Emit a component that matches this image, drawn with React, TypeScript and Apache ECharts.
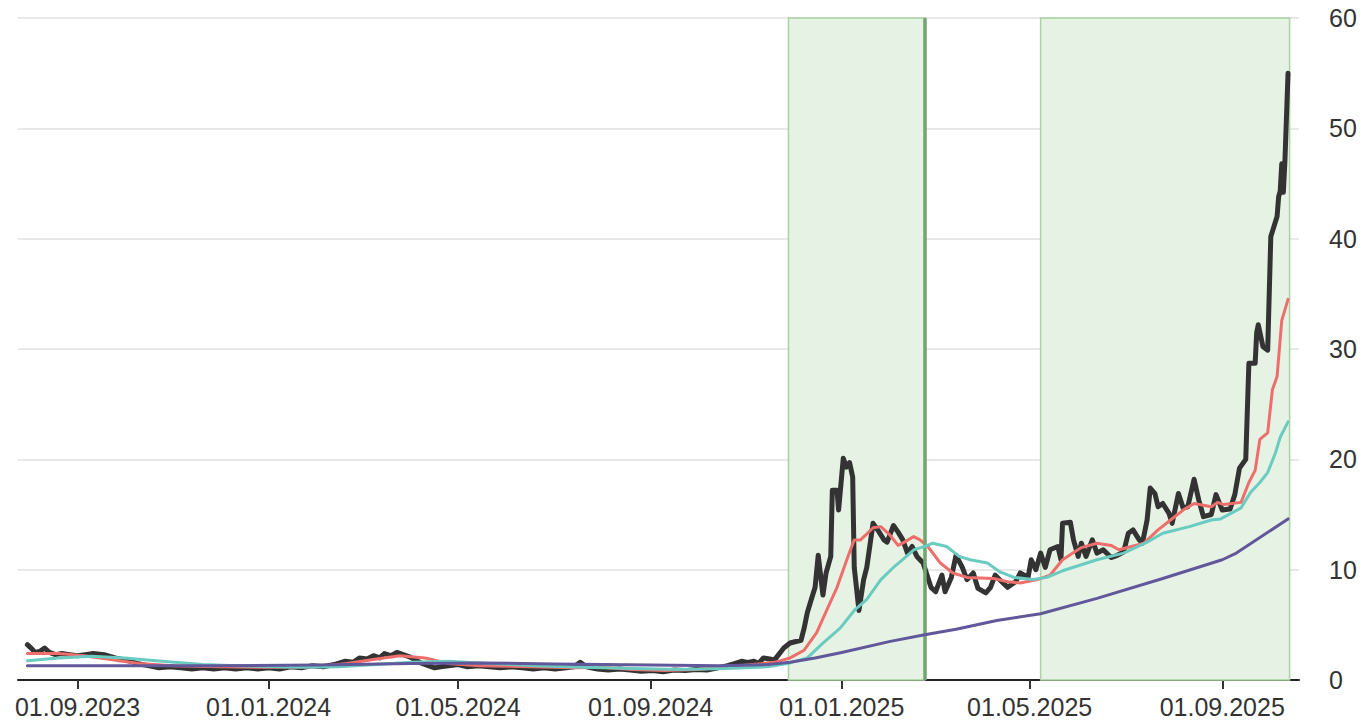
import React, { useEffect, useRef } from "react";
import * as echarts from "echarts";

// ---- Data ----
const tickDates: string[] = [
  "2023-09-01", "2024-01-01", "2024-05-01", "2024-09-01",
  "2025-01-01", "2025-05-01", "2025-09-01",
];

const price: [string, number][] = [
  ["2023-07-31", 3.2], ["2023-08-03", 2.8], ["2023-08-05", 2.5], ["2023-08-08", 2.6],
  ["2023-08-11", 2.9], ["2023-08-14", 2.5], ["2023-08-18", 2.3], ["2023-08-22", 2.4],
  ["2023-08-27", 2.3], ["2023-09-01", 2.2], ["2023-09-06", 2.3], ["2023-09-11", 2.4],
  ["2023-09-18", 2.3], ["2023-09-25", 2.0], ["2023-10-02", 1.8], ["2023-10-09", 1.5],
  ["2023-10-16", 1.3], ["2023-10-23", 1.1], ["2023-10-30", 1.2], ["2023-11-06", 1.1],
  ["2023-11-13", 1.0], ["2023-11-20", 1.1], ["2023-11-27", 1.0], ["2023-12-04", 1.1],
  ["2023-12-11", 1.0], ["2023-12-18", 1.1], ["2023-12-25", 1.0], ["2024-01-01", 1.1],
  ["2024-01-08", 1.0], ["2024-01-15", 1.2], ["2024-01-22", 1.1], ["2024-01-29", 1.3],
  ["2024-02-05", 1.2], ["2024-02-12", 1.4], ["2024-02-19", 1.7], ["2024-02-24", 1.6],
  ["2024-02-28", 2.0], ["2024-03-04", 1.9], ["2024-03-08", 2.2], ["2024-03-12", 2.0],
  ["2024-03-15", 2.4], ["2024-03-19", 2.2], ["2024-03-23", 2.5], ["2024-03-27", 2.3],
  ["2024-03-31", 2.1], ["2024-04-04", 1.8], ["2024-04-08", 1.5], ["2024-04-12", 1.3],
  ["2024-04-16", 1.1], ["2024-04-20", 1.2], ["2024-04-25", 1.3], ["2024-05-01", 1.4],
  ["2024-05-07", 1.2], ["2024-05-14", 1.3], ["2024-05-21", 1.2], ["2024-05-28", 1.1],
  ["2024-06-04", 1.2], ["2024-06-11", 1.1], ["2024-06-18", 1.0], ["2024-06-25", 1.1],
  ["2024-07-02", 1.0], ["2024-07-09", 1.1], ["2024-07-14", 1.2], ["2024-07-18", 1.6],
  ["2024-07-22", 1.2], ["2024-07-29", 1.0], ["2024-08-05", 0.9], ["2024-08-12", 1.0],
  ["2024-08-19", 0.9], ["2024-08-26", 0.8], ["2024-09-02", 0.85], ["2024-09-09", 0.75],
  ["2024-09-16", 0.9], ["2024-09-23", 0.85], ["2024-09-30", 0.95], ["2024-10-07", 0.9],
  ["2024-10-14", 1.1], ["2024-10-20", 1.3], ["2024-10-25", 1.5], ["2024-10-29", 1.7],
  ["2024-11-02", 1.6], ["2024-11-06", 1.7], ["2024-11-09", 1.5], ["2024-11-12", 2.0],
  ["2024-11-16", 1.9], ["2024-11-19", 1.8], ["2024-11-25", 2.9], ["2024-11-29", 3.35],
  ["2024-12-06", 3.6], ["2024-12-08", 4.7], ["2024-12-10", 6.1], ["2024-12-13", 7.5],
  ["2024-12-15", 8.4], ["2024-12-17", 11.3], ["2024-12-20", 7.7], ["2024-12-22", 9.7],
  ["2024-12-25", 11.2], ["2024-12-26", 17.2], ["2024-12-29", 17.2], ["2024-12-30", 15.4],
  ["2025-01-02", 20.1], ["2025-01-04", 19.3], ["2025-01-06", 19.7], ["2025-01-08", 18.4],
  ["2025-01-09", 10.2], ["2025-01-12", 6.3], ["2025-01-15", 9.1], ["2025-01-17", 10.2],
  ["2025-01-21", 14.2], ["2025-01-24", 13.6], ["2025-01-28", 12.7], ["2025-01-30", 12.5],
  ["2025-02-03", 14.0], ["2025-02-06", 13.4], ["2025-02-09", 12.7], ["2025-02-12", 11.5],
  ["2025-02-15", 12.1], ["2025-02-18", 11.2], ["2025-02-22", 10.6], ["2025-02-27", 8.4],
  ["2025-03-02", 8.0], ["2025-03-06", 9.5], ["2025-03-08", 8.0], ["2025-03-12", 9.3],
  ["2025-03-15", 11.3], ["2025-03-19", 10.2], ["2025-03-22", 9.1], ["2025-03-26", 9.7],
  ["2025-03-29", 8.3], ["2025-04-03", 7.9], ["2025-04-06", 8.4], ["2025-04-09", 9.5],
  ["2025-04-14", 8.8], ["2025-04-17", 8.4], ["2025-04-22", 8.9], ["2025-04-25", 9.7],
  ["2025-04-30", 9.3], ["2025-05-02", 10.9], ["2025-05-05", 10.0], ["2025-05-08", 11.5],
  ["2025-05-11", 10.2], ["2025-05-14", 11.8], ["2025-05-19", 12.1], ["2025-05-21", 10.9],
  ["2025-05-22", 14.2], ["2025-05-27", 14.3], ["2025-05-29", 12.7], ["2025-06-01", 11.2],
  ["2025-06-03", 12.4], ["2025-06-06", 11.2], ["2025-06-10", 12.7], ["2025-06-13", 11.5],
  ["2025-06-17", 11.8], ["2025-06-22", 11.1], ["2025-06-26", 11.3], ["2025-06-30", 11.6],
  ["2025-07-03", 13.3], ["2025-07-06", 13.6], ["2025-07-10", 12.7], ["2025-07-12", 12.4],
  ["2025-07-15", 14.5], ["2025-07-17", 17.4], ["2025-07-20", 16.9], ["2025-07-22", 15.7],
  ["2025-07-25", 16.0], ["2025-07-29", 15.1], ["2025-07-31", 14.2], ["2025-08-04", 16.9],
  ["2025-08-07", 15.6], ["2025-08-10", 15.7], ["2025-08-14", 18.2], ["2025-08-17", 16.3],
  ["2025-08-20", 14.8], ["2025-08-25", 15.0], ["2025-08-28", 16.8], ["2025-09-01", 15.4],
  ["2025-09-06", 15.5], ["2025-09-09", 16.8], ["2025-09-12", 19.2], ["2025-09-16", 20.0],
  ["2025-09-18", 28.7], ["2025-09-22", 28.7], ["2025-09-23", 31.5], ["2025-09-24", 32.2],
  ["2025-09-27", 30.2], ["2025-09-30", 29.9], ["2025-10-02", 40.2], ["2025-10-06", 42.0],
  ["2025-10-07", 43.8], ["2025-10-08", 44.3], ["2025-10-09", 46.8], ["2025-10-10", 44.2],
  ["2025-10-11", 47.0], ["2025-10-13", 55.0],
];

const maShort: [string, number][] = [
  ["2023-07-31", 2.4], ["2023-08-20", 2.4], ["2023-09-05", 2.2], ["2023-09-20", 1.9],
  ["2023-10-10", 1.5], ["2023-11-01", 1.3], ["2023-12-01", 1.2], ["2024-01-01", 1.15],
  ["2024-02-01", 1.2], ["2024-02-20", 1.5], ["2024-03-10", 1.9], ["2024-03-25", 2.2],
  ["2024-04-10", 2.0], ["2024-04-25", 1.5], ["2024-05-15", 1.3], ["2024-06-15", 1.2],
  ["2024-07-15", 1.1], ["2024-08-01", 1.15], ["2024-08-20", 0.95], ["2024-09-10", 0.85],
  ["2024-10-01", 0.95], ["2024-10-20", 1.2], ["2024-11-05", 1.4], ["2024-11-19", 1.6],
  ["2024-11-29", 2.0], ["2024-12-08", 2.7], ["2024-12-16", 4.3], ["2024-12-22", 6.2],
  ["2024-12-29", 8.4], ["2025-01-05", 11.2], ["2025-01-09", 12.7], ["2025-01-13", 12.7],
  ["2025-01-16", 13.1], ["2025-01-21", 13.8], ["2025-01-26", 13.9], ["2025-02-01", 13.1],
  ["2025-02-06", 12.2], ["2025-02-10", 12.5], ["2025-02-16", 13.0], ["2025-02-20", 12.7],
  ["2025-02-25", 12.1], ["2025-03-05", 10.6], ["2025-03-13", 9.7], ["2025-03-22", 9.3],
  ["2025-04-08", 9.2], ["2025-04-17", 8.9], ["2025-04-25", 8.8], ["2025-05-06", 9.1],
  ["2025-05-14", 9.5], ["2025-05-22", 10.9], ["2025-06-03", 12.0], ["2025-06-13", 12.4],
  ["2025-06-22", 12.2], ["2025-06-27", 11.8], ["2025-07-05", 12.1], ["2025-07-13", 12.4],
  ["2025-07-22", 13.6], ["2025-07-30", 14.5], ["2025-08-07", 15.4], ["2025-08-14", 16.0],
  ["2025-08-25", 15.7], ["2025-08-29", 16.1], ["2025-09-02", 15.9], ["2025-09-13", 16.1],
  ["2025-09-18", 17.9], ["2025-09-22", 19.0], ["2025-09-25", 21.8], ["2025-09-30", 22.4],
  ["2025-10-03", 26.3], ["2025-10-06", 27.5], ["2025-10-09", 32.6], ["2025-10-13", 34.5],
];

const maMid: [string, number][] = [
  ["2023-07-31", 1.75], ["2023-08-20", 2.0], ["2023-09-10", 2.15], ["2023-10-01", 2.0],
  ["2023-10-25", 1.7], ["2023-11-20", 1.4], ["2023-12-20", 1.25], ["2024-01-20", 1.15],
  ["2024-02-15", 1.2], ["2024-03-10", 1.4], ["2024-04-01", 1.6], ["2024-04-25", 1.7],
  ["2024-05-20", 1.5], ["2024-06-20", 1.3], ["2024-07-20", 1.15], ["2024-08-20", 1.05],
  ["2024-09-20", 0.95], ["2024-10-20", 1.05], ["2024-11-15", 1.2], ["2024-11-29", 1.55],
  ["2024-12-10", 2.0], ["2024-12-20", 3.35], ["2024-12-31", 4.7], ["2025-01-09", 6.3],
  ["2025-01-17", 7.3], ["2025-01-26", 9.1], ["2025-02-03", 10.2], ["2025-02-08", 10.8],
  ["2025-02-16", 11.8], ["2025-02-25", 12.2], ["2025-02-28", 12.4], ["2025-03-09", 12.1],
  ["2025-03-17", 11.2], ["2025-03-24", 10.9], ["2025-04-04", 10.6], ["2025-04-12", 9.8],
  ["2025-04-21", 9.3], ["2025-05-03", 9.1], ["2025-05-12", 9.3], ["2025-05-22", 9.9],
  ["2025-06-13", 10.9], ["2025-06-30", 11.5], ["2025-07-15", 12.5], ["2025-07-25", 13.3],
  ["2025-08-11", 13.9], ["2025-08-25", 14.5], ["2025-08-31", 14.6], ["2025-09-13", 15.6],
  ["2025-09-19", 17.0], ["2025-09-25", 17.9], ["2025-09-30", 18.8], ["2025-10-05", 20.6],
  ["2025-10-08", 22.0], ["2025-10-13", 23.4],
];

const maLong: [string, number][] = [
  ["2023-07-31", 1.3], ["2023-10-01", 1.3], ["2023-12-01", 1.3], ["2024-02-01", 1.35],
  ["2024-04-01", 1.5], ["2024-05-15", 1.55], ["2024-07-01", 1.45], ["2024-09-01", 1.35],
  ["2024-10-15", 1.3], ["2024-11-15", 1.4], ["2024-11-29", 1.6], ["2024-12-15", 2.0],
  ["2025-01-01", 2.5], ["2025-02-01", 3.5], ["2025-02-23", 4.1], ["2025-03-15", 4.6],
  ["2025-04-10", 5.4], ["2025-05-08", 6.0], ["2025-06-13", 7.4], ["2025-07-25", 9.2],
  ["2025-09-01", 10.9], ["2025-09-10", 11.5], ["2025-10-13", 14.6],
];

const shadedRanges: [string, string][] = [
  ["2024-11-28", "2025-02-23"],
  ["2025-05-08", "2025-10-14"],
];
const markerDate = "2025-02-23";

const xMin = "2023-07-25";
const xMax = "2025-10-20";

function toTs(s: string): number {
  const [y, m, d] = s.split("-").map(Number);
  return Date.UTC(y, m - 1, d);
}
function fmt(v: number): string {
  const d = new Date(v);
  const dd = String(d.getUTCDate()).padStart(2, "0");
  const mm = String(d.getUTCMonth() + 1).padStart(2, "0");
  return `${dd}.${mm}.${d.getUTCFullYear()}`;
}

const FONT = "'Liberation Sans', Arial, Helvetica, sans-serif";

export default function App() {
  const ref = useRef<HTMLDivElement>(null);
  useEffect(() => {
    if (!ref.current) return;
    const chart = echarts.init(ref.current, undefined, { renderer: "svg" });
    const ticks = tickDates.map(toTs);
    const toData = (arr: [string, number][]) => arr.map(([d, v]) => [toTs(d), v]);
    const lineSeries = (name: string, data: [string, number][], color: string, width: number, z: number) => ({
      name,
      type: "line",
      data: toData(data),
      showSymbol: false,
      symbol: "none",
      z,
      silent: true,
      lineStyle: { color, width, cap: "round", join: "round" },
      emphasis: { disabled: true },
    });
    chart.setOption({
      animation: false,
      grid: { left: 18, right: 67, top: 18, bottom: 46, containLabel: false },
      xAxis: {
        type: "value",
        min: toTs(xMin),
        max: toTs(xMax),
        axisLine: { show: true, onZero: false, lineStyle: { color: "#222", width: 2 } },
        axisTick: { show: true, length: 9, lineStyle: { color: "#333", width: 2 }, customValues: ticks },
        axisLabel: {
          customValues: ticks,
          formatter: (v: number) => fmt(v),
          fontSize: 25,
          color: "#333",
          fontFamily: FONT,
          margin: 14,
        },
        splitLine: { show: false },
      },
      yAxis: {
        type: "value",
        position: "right",
        min: 0,
        max: 60,
        interval: 10,
        axisLine: { show: false },
        axisTick: { show: false },
        axisLabel: { fontSize: 25, color: "#333", fontFamily: FONT, margin: 30, align: "left" },
        splitLine: { show: true, lineStyle: { color: "#e0e0e0", width: 1.5 } },
      },
      series: [
        {
          name: "zones",
          type: "line",
          data: [],
          z: 1,
          silent: true,
          markArea: {
            silent: true,
            itemStyle: { color: "#e6f2e4", borderColor: "#a8d4a0", borderWidth: 1.5, opacity: 1 },
            emphasis: { disabled: true },
            label: { show: false },
            data: shadedRanges.map(([a, b]) => [{ xAxis: toTs(a) }, { xAxis: toTs(b) }]),
          },
          markLine: {
            silent: true,
            symbol: ["none", "none"],
            label: { show: false },
            lineStyle: { color: "#72a46e", width: 3.5, type: "solid" },
            emphasis: { disabled: true },
            data: [{ xAxis: toTs(markerDate) }],
          },
        },
        lineSeries("price", price, "#333333", 5, 3),
        lineSeries("maShort", maShort, "#ee6e6b", 3, 4),
        lineSeries("maMid", maMid, "#6acbc1", 3, 5),
        lineSeries("maLong", maLong, "#61579b", 3, 6),
      ],
    });
    return () => chart.dispose();
  }, []);
  return (
    <div
      ref={ref}
      style={{ position: "fixed", left: 0, top: 0, width: 1366, height: 726, background: "#fff" }}
    />
  );
}
